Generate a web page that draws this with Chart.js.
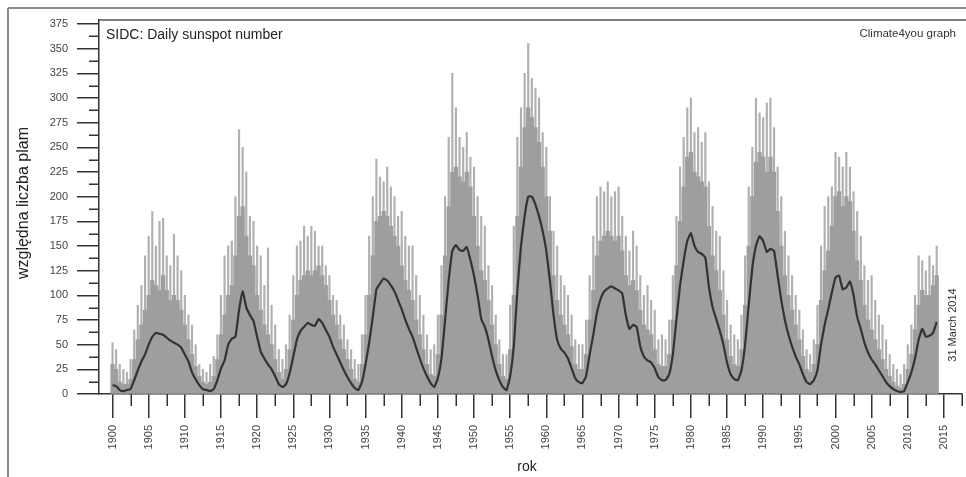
<!DOCTYPE html>
<html>
<head>
<meta charset="utf-8">
<script src="https://cdn.jsdelivr.net/npm/chart.js@4.4.0/dist/chart.umd.min.js"></script>
<style>
  html, body { margin: 0; padding: 0; background: #fff; }
  #wrap { width: 966px; height: 477px; position: relative; }
</style>
</head>
<body>
<div id="wrap"><canvas id="c" width="966" height="477"></canvas></div>
<script>
// ---- data, half-year steps from 1900.0 to 2014.0 ----
const startYear = 1900;
const stepYears = 0.5;

// smoothed (running mean) sunspot number
const smoothValues = [
  9,8,4,3,4,5,14,24,33,40,50,58,62,61,60,57,54,52,50,47,        // 1900s
  40,33,22,15,9,5,4,3,5,14,26,34,50,56,58,85,104,88,80,74,       // 1910s
  58,43,36,30,25,18,10,7,10,21,38,55,64,68,72,70,69,76,72,65,    // 1920s
  58,48,40,32,24,17,11,6,4,12,30,52,78,106,112,117,115,110,104,95, // 1930s
  86,75,66,58,47,36,26,18,11,7,16,36,75,115,145,151,146,145,149,136, // 1940s
  120,100,76,68,55,38,24,14,7,4,18,48,105,150,180,200,200,192,180,165, // 1950s
  145,115,80,55,46,42,36,26,16,12,11,18,40,60,82,96,104,107,109,107, // 1960s
  105,102,80,66,70,68,48,38,34,32,26,17,14,14,20,40,75,110,135,155, // 1970s
  163,150,144,142,138,108,88,76,64,50,32,20,15,14,24,50,90,128,150,160, // 1980s
  155,144,147,145,120,95,75,60,48,38,30,20,12,10,14,24,50,70,86,103, // 1990s
  118,120,106,108,114,100,78,66,52,42,35,30,24,18,12,8,5,3,2,3,  // 2000s
  12,22,36,55,66,58,59,62,73                                      // 2010-2014
];

// dense daily-value band (typical upper level of daily numbers)
const bandValues = [
  30,25,12,10,10,15,35,55,70,85,100,115,110,105,120,105,95,100,95,85,
  70,55,40,28,18,12,10,12,18,35,60,80,100,110,140,180,190,160,140,130,
  100,85,70,60,50,35,22,15,25,45,75,100,115,120,125,120,125,130,120,110,
  95,80,70,55,45,35,25,15,12,30,60,100,140,175,180,185,180,170,160,150,
  130,115,105,95,75,60,45,30,20,18,40,80,140,190,225,230,220,215,225,210,
  180,150,125,115,95,70,50,30,18,15,45,100,180,230,270,290,280,270,255,230,
  200,165,120,95,80,70,60,48,30,25,25,40,75,105,140,155,160,165,160,155,
  160,145,120,110,115,105,85,70,65,60,45,30,28,28,40,75,130,175,210,240,
  245,225,220,215,210,170,140,125,105,80,55,38,30,28,45,90,150,200,235,245,
  240,225,240,225,185,150,120,100,85,70,55,38,25,22,30,50,95,125,145,170,
  200,205,190,200,195,165,135,115,90,75,65,55,45,35,25,18,12,8,6,10,
  25,40,65,90,105,100,100,110,120
];

// highest daily values (spikes)
const peakValues = [
  52,45,30,25,22,35,65,90,110,140,160,185,150,175,178,140,130,162,140,125,
  100,80,70,50,30,25,22,30,38,60,100,140,150,155,200,268,250,225,180,175,
  150,140,110,148,90,70,45,35,50,80,120,150,155,170,160,170,165,150,150,130,
  120,100,95,80,70,55,45,35,30,60,100,160,200,238,220,215,230,210,200,180,
  185,160,150,150,120,100,80,60,45,50,80,130,200,260,325,290,260,250,265,240,
  230,200,180,170,130,110,80,55,40,40,90,170,260,290,325,355,320,310,300,265,
  250,200,165,150,120,110,100,80,55,50,50,75,120,160,200,210,205,215,200,205,
  210,180,160,145,165,150,120,100,110,95,85,55,60,55,75,120,180,230,260,290,
  300,265,270,255,265,215,190,165,160,125,95,70,60,55,80,140,210,250,300,285,
  280,295,300,270,230,200,165,140,120,100,85,65,45,40,55,90,150,190,200,210,
  245,240,230,245,230,205,185,160,130,115,120,95,80,70,55,40,30,25,20,30,
  50,70,100,140,135,125,140,130,150
];

const xTickYears = [1900,1905,1910,1915,1920,1925,1930,1935,1940,1945,1950,1955,
  1960,1965,1970,1975,1980,1985,1990,1995,2000,2005,2010,2015];
const yTickValues = [0,25,50,75,100,125,150,175,200,225,250,275,300,325,350,375];

const titleText = 'SIDC: Daily sunspot number';
const creditText = 'Climate4you graph';
const dateText = '31 March 2014';
const yTitleText = 'względna liczba plam';
const xTitleText = 'rok';

// ---- build datasets ----
const toPoints = arr => arr.map((y, i) => ({ x: startYear + i * stepYears, y }));

const FONT = '"Liberation Sans", Arial, sans-serif';

const decorPlugin = {
  id: 'decor',
  beforeDraw(chart) {
    const ctx = chart.ctx;
    ctx.save();
    ctx.fillStyle = '#fff';
    ctx.fillRect(0, 0, chart.width, chart.height);
    // outer frame
    ctx.strokeStyle = '#8a8a8a';
    ctx.lineWidth = 2;
    ctx.beginPath();
    ctx.moveTo(8, 8); ctx.lineTo(chart.width, 8);
    ctx.moveTo(8, 8); ctx.lineTo(8, chart.height);
    ctx.stroke();
    ctx.restore();
  },
  afterDraw(chart) {
    const ctx = chart.ctx;
    const a = chart.chartArea;
    const xs = chart.scales.x, ys = chart.scales.y;
    ctx.save();
    // top border of plot
    ctx.strokeStyle = '#555';
    ctx.lineWidth = 1.5;
    ctx.beginPath();
    ctx.moveTo(a.left, a.top); ctx.lineTo(chart.width, a.top);
    ctx.stroke();
    // minor ticks
    ctx.strokeStyle = '#333';
    ctx.lineWidth = 1.5;
    ctx.beginPath();
    xTickYears.forEach(v => {
      const m = v + 2.5;
      if (m <= xs.max) {
        const px = Math.round(xs.getPixelForValue(m)) + 0.25;
        ctx.moveTo(px, a.bottom); ctx.lineTo(px, a.bottom + 12);
      }
    });
    yTickValues.forEach(v => {
      const m = v + 12.5;
      if (m <= ys.max) {
        const py = Math.round(ys.getPixelForValue(m)) + 0.25;
        ctx.moveTo(a.left - 10, py); ctx.lineTo(a.left, py);
      }
    });
    ctx.stroke();
    // texts
    ctx.fillStyle = '#222';
    ctx.textBaseline = 'middle';
    ctx.font = '14px ' + FONT;
    ctx.textAlign = 'left';
    ctx.fillText(titleText, a.left + 7, 35);
    ctx.font = '11.5px ' + FONT;
    ctx.fillStyle = '#333';
    ctx.textAlign = 'right';
    ctx.fillText(creditText, 956, 34);
    // rotated date
    ctx.save();
    ctx.translate(953, 325);
    ctx.rotate(-Math.PI / 2);
    ctx.textAlign = 'center';
    ctx.font = '11px ' + FONT;
    ctx.fillText(dateText, 0, 0);
    ctx.restore();
    // y title
    ctx.fillStyle = '#222';
    ctx.save();
    ctx.translate(24, 203);
    ctx.rotate(-Math.PI / 2);
    ctx.textAlign = 'center';
    ctx.font = '16px ' + FONT;
    ctx.fillText(yTitleText, 0, 0);
    ctx.restore();
    // x title
    ctx.textAlign = 'center';
    ctx.font = '14px ' + FONT;
    ctx.fillText(xTitleText, 527, 467);
    ctx.restore();
  }
};

new Chart(document.getElementById('c'), {
  type: 'bar',
  data: {
    datasets: [
      {
        type: 'line',
        label: 'smoothed',
        data: toPoints(smoothValues),
        borderColor: '#333333',
        borderWidth: 2.2,
        pointRadius: 0,
        tension: 0.12,
        fill: false,
        order: 0
      },
      {
        type: 'bar',
        label: 'band',
        data: toPoints(bandValues),
        backgroundColor: '#9e9e9e',
        borderWidth: 0,
        barPercentage: 1,
        categoryPercentage: 1,
        grouped: false,
        order: 1
      },
      {
        type: 'bar',
        label: 'peaks',
        data: toPoints(peakValues),
        backgroundColor: '#b0b0b0',
        borderWidth: 0,
        barThickness: 1.5,
        grouped: false,
        order: 2
      }
    ]
  },
  options: {
    responsive: false,
    animation: false,
    events: [],
    layout: { padding: { left: 0, right: 4, top: 20, bottom: 0 } },
    plugins: { legend: { display: false }, tooltip: { enabled: false }, title: { display: false } },
    scales: {
      x: {
        type: 'linear',
        min: 1898.13,
        max: 2017.5,
        offset: false,
        grid: { display: true, drawOnChartArea: false, drawTicks: true, tickLength: 24, color: '#333', lineWidth: 1.5, offset: false },
        border: { display: true, color: '#333', width: 1.5 },
        afterBuildTicks: s => { s.ticks = xTickYears.map(v => ({ value: v })); },
        afterFit: s => { s.height = 83; s.paddingLeft = 0; s.paddingRight = 0; },
        ticks: {
          autoSkip: false,
          minRotation: 90,
          maxRotation: 90,
          padding: 7,
          color: '#444',
          font: { family: FONT, size: 11 },
          callback: v => String(v)
        }
      },
      y: {
        type: 'linear',
        min: 0,
        max: 379,
        grid: { display: true, drawOnChartArea: false, drawTicks: true, tickLength: 22, color: '#333', lineWidth: 1.5 },
        border: { display: true, color: '#333', width: 1.5 },
        afterBuildTicks: s => { s.ticks = yTickValues.map(v => ({ value: v })); },
        afterFit: s => { s.width = 99; s.paddingTop = 0; s.paddingBottom = 0; },
        ticks: {
          padding: 9,
          color: '#444',
          font: { family: FONT, size: 11 },
          callback: v => String(v)
        }
      }
    }
  },
  plugins: [decorPlugin]
});
</script>
</body>
</html>
